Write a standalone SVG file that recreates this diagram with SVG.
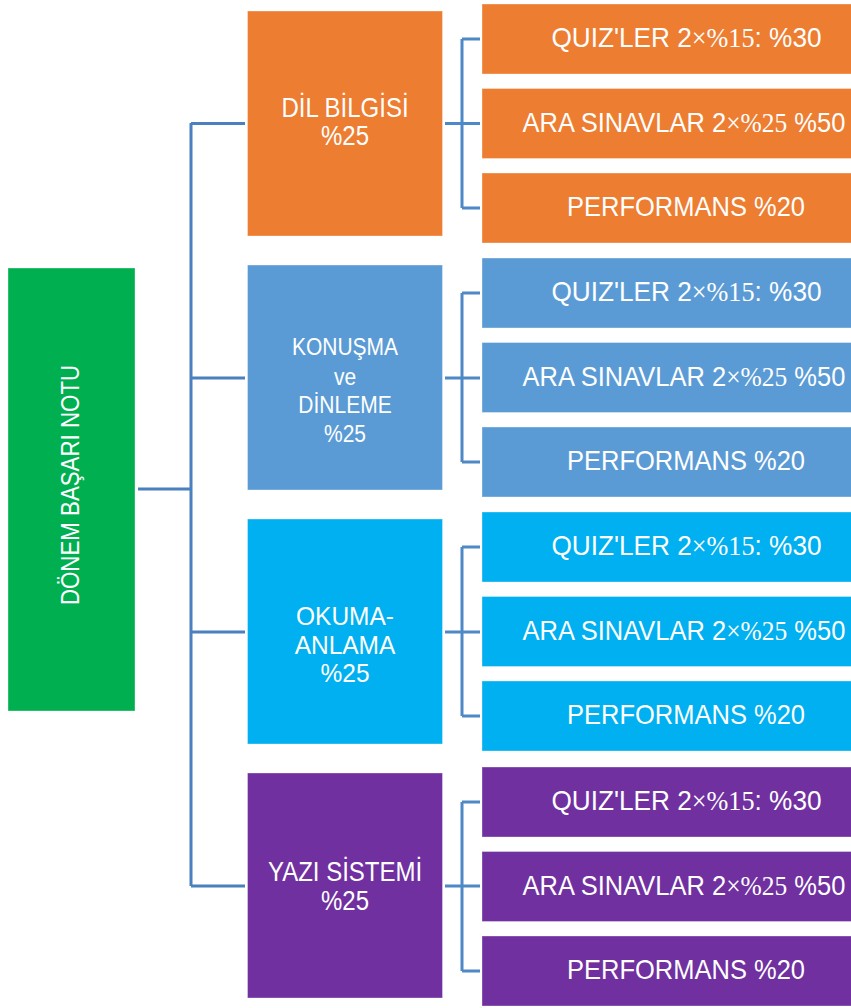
<svg xmlns="http://www.w3.org/2000/svg" width="851" height="1008" viewBox="0 0 851 1008">
<style>
.box{stroke:#ffffff;stroke-opacity:0.35;stroke-width:1}
.t{font-family:"Liberation Sans",Arial,sans-serif;fill:#ffffff;text-anchor:middle}
.leaf{font-size:25.5px}
.q{font-size:26.2px}
.l2{font-size:24px}
.s{font-family:"Liberation Serif","Times New Roman",serif}
.c{fill:none;stroke:#4a80bd;stroke-width:3}
.c2{fill:none;stroke:#4f88c6;stroke-width:3}
</style>
<rect width="851" height="1008" fill="#ffffff"/>
<g id="connectors">
<path class="c" d="M138 489H191M191 123V886M191 123.5H245M191 378H245M191 632H245M191 886H245"/>
<path class="c2" d="M445 123.5H480M462 39V208M462 39H480M462 208H480"/>
<path class="c2" d="M445 378H480M462 293V462M462 293H480M462 462H480"/>
<path class="c2" d="M445 632H480M462 547V716M462 547H480M462 716H480"/>
<path class="c2" d="M445 886H480M462 802V971M462 802H480M462 971H480"/>
</g>
<g id="root">
<rect class="box" x="8" y="268" width="127" height="443" fill="#00b050"/>
<text class="t" font-size="22.3" transform="translate(79,485) rotate(-90) scale(1,1.12)">DÖNEM BAŞARI NOTU</text>
</g>
<g id="dil">
<rect class="box" x="247.5" y="11" width="195" height="225" fill="#ed7d31"/>
<text class="t l2" transform="translate(345,117) scale(1,1.13)">DİL BİLGİSİ</text>
<text class="t l2" transform="translate(345,145) scale(1,1.13)">%25</text>
</g>
<g id="dil-quiz">
<rect class="box" x="482" y="4" width="400" height="70" fill="#ed7d31"/>
<text class="t q" transform="translate(686.5,47) scale(1,1.08)">QUIZ'LER 2<tspan class="s">×%15</tspan>: %30</text>
</g>
<g id="dil-ara">
<rect class="box" x="482" y="88.5" width="400" height="70" fill="#ed7d31"/>
<text class="t leaf" transform="translate(684,131.5) scale(1,1.1)">ARA SINAVLAR 2<tspan class="s">×%25</tspan> %50</text>
</g>
<g id="dil-perf">
<rect class="box" x="482" y="173" width="400" height="70" fill="#ed7d31"/>
<text class="t leaf" transform="translate(686,216) scale(1,1.1)">PERFORMANS %20</text>
</g>
<g id="konusma">
<rect class="box" x="247.5" y="265" width="195" height="225" fill="#5b9bd5"/>
<text class="t" font-size="21" transform="translate(345,355) scale(1,1.15)">KONUŞMA</text>
<text class="t" font-size="21" transform="translate(345,385) scale(1,1.15)">ve</text>
<text class="t" font-size="21" transform="translate(345,413) scale(1,1.15)">DİNLEME</text>
<text class="t" font-size="21" transform="translate(345,441.5) scale(1,1.15)">%25</text>
</g>
<g id="konusma-quiz">
<rect class="box" x="482" y="258" width="400" height="70" fill="#5b9bd5"/>
<text class="t q" transform="translate(686.5,301) scale(1,1.08)">QUIZ'LER 2<tspan class="s">×%15</tspan>: %30</text>
</g>
<g id="konusma-ara">
<rect class="box" x="482" y="342.5" width="400" height="70" fill="#5b9bd5"/>
<text class="t leaf" transform="translate(684,385.5) scale(1,1.1)">ARA SINAVLAR 2<tspan class="s">×%25</tspan> %50</text>
</g>
<g id="konusma-perf">
<rect class="box" x="482" y="427" width="400" height="70" fill="#5b9bd5"/>
<text class="t leaf" transform="translate(686,470) scale(1,1.1)">PERFORMANS %20</text>
</g>
<g id="okuma">
<rect class="box" x="247.5" y="519" width="195" height="225" fill="#00b0f0"/>
<text class="t" font-size="24.5" transform="translate(345,625) scale(1,1.05)">OKUMA-</text>
<text class="t" font-size="24.5" transform="translate(345,653.5) scale(1,1.05)">ANLAMA</text>
<text class="t" font-size="24.5" transform="translate(345,682) scale(1,1.05)">%25</text>
</g>
<g id="okuma-quiz">
<rect class="box" x="482" y="512" width="400" height="70" fill="#00b0f0"/>
<text class="t q" transform="translate(686.5,555) scale(1,1.08)">QUIZ'LER 2<tspan class="s">×%15</tspan>: %30</text>
</g>
<g id="okuma-ara">
<rect class="box" x="482" y="596.5" width="400" height="70" fill="#00b0f0"/>
<text class="t leaf" transform="translate(684,639.5) scale(1,1.1)">ARA SINAVLAR 2<tspan class="s">×%25</tspan> %50</text>
</g>
<g id="okuma-perf">
<rect class="box" x="482" y="681" width="400" height="70" fill="#00b0f0"/>
<text class="t leaf" transform="translate(686,724) scale(1,1.1)">PERFORMANS %20</text>
</g>
<g id="yazi">
<rect class="box" x="247.5" y="773" width="195" height="225" fill="#7030a0"/>
<text class="t l2" transform="translate(345,881) scale(1,1.13)">YAZI SİSTEMİ</text>
<text class="t l2" transform="translate(345,910) scale(1,1.13)">%25</text>
</g>
<g id="yazi-quiz">
<rect class="box" x="482" y="767" width="400" height="70" fill="#7030a0"/>
<text class="t q" transform="translate(686.5,810) scale(1,1.08)">QUIZ'LER 2<tspan class="s">×%15</tspan>: %30</text>
</g>
<g id="yazi-ara">
<rect class="box" x="482" y="851.5" width="400" height="70" fill="#7030a0"/>
<text class="t leaf" transform="translate(684,894.5) scale(1,1.1)">ARA SINAVLAR 2<tspan class="s">×%25</tspan> %50</text>
</g>
<g id="yazi-perf">
<rect class="box" x="482" y="936" width="400" height="70" fill="#7030a0"/>
<text class="t leaf" transform="translate(686,979) scale(1,1.1)">PERFORMANS %20</text>
</g>
</svg>
